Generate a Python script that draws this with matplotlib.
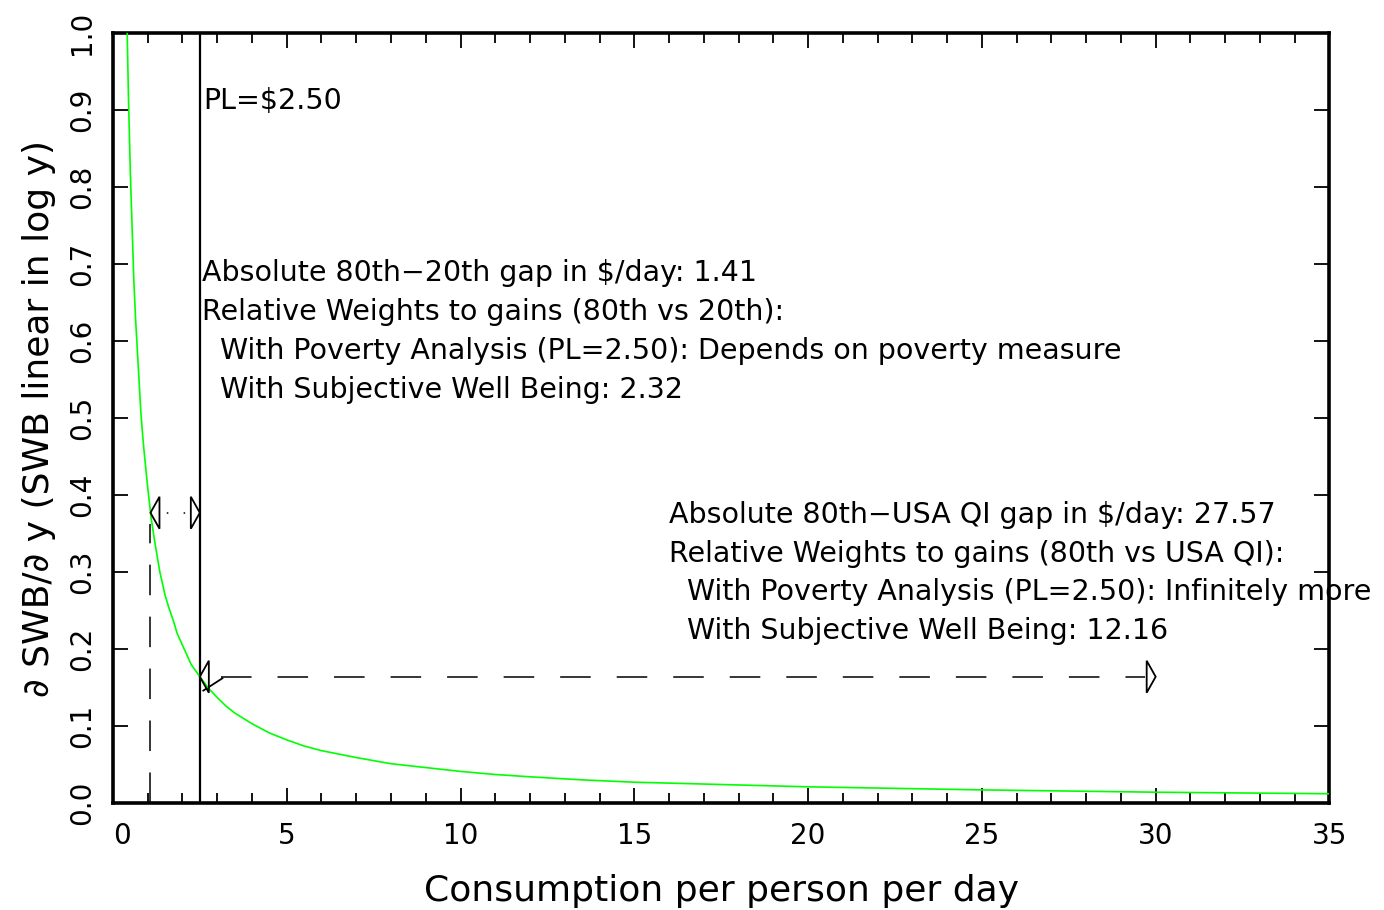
import matplotlib
matplotlib.use("Agg")
import matplotlib.pyplot as plt
from matplotlib.patches import Polygon

plt.rcParams['font.family'] = ['DejaVu Sans']

# curve: marginal utility of consumption
cons = [0.41, 0.45, 0.5, 0.55, 0.6, 0.65, 0.7, 0.75, 0.8, 0.85, 0.9, 1.0, 1.1, 1.2,
        1.35, 1.5, 1.6, 1.75, 1.85, 2.0, 2.25, 2.5, 2.75, 3.0, 3.25, 3.5, 4.0, 4.5,
        5.0, 5.5, 6.0, 7.0, 8.0, 9.0, 10.0, 11.0, 12.0, 13.5, 15.0, 17.5, 20.0,
        25.0, 30.0, 35.0]
mu = [1.0, 0.91, 0.82, 0.75, 0.68, 0.63, 0.59, 0.55, 0.51, 0.48, 0.455, 0.41, 0.37,
      0.34, 0.30, 0.27, 0.255, 0.235, 0.22, 0.205, 0.18, 0.164, 0.149, 0.137, 0.126,
      0.117, 0.103, 0.091, 0.082, 0.074, 0.068, 0.059, 0.051, 0.046, 0.041, 0.037,
      0.034, 0.030, 0.027, 0.024, 0.021, 0.017, 0.014, 0.012]

pov_line = 2.5
p20 = 1.08        # 20th percentile consumption
p20_mu = 0.377
p80 = 2.5         # 80th percentile consumption
p80_mu = 0.164
usa_qi = 30.0

text1 = ["Absolute 80th\u221220th gap in $/day: 1.41",
         "Relative Weights to gains (80th vs 20th):",
         "  With Poverty Analysis (PL=2.50): Depends on poverty measure",
         "  With Subjective Well Being: 2.32"]
text2 = ["Absolute 80th\u2212USA QI gap in $/day: 27.57",
         "Relative Weights to gains (80th vs USA QI):",
         "  With Poverty Analysis (PL=2.50): Infinitely more",
         "  With Subjective Well Being: 12.16"]

fig = plt.figure(figsize=(13.84, 9.10), dpi=100)
ax = fig.add_axes([0.0816, 0.1176, 0.879, 0.846])
ax.set_xlim(0, 35)
ax.set_ylim(0, 1.0)

fs = 20.5

ax.plot(cons, mu, color='#00ff00', lw=1.2, zorder=3)
ax.axvline(pov_line, color='black', lw=1.6)
ax.text(pov_line + 0.1, 0.912, "PL=$2.50", fontsize=fs, va='center', ha='left')

# dashed verticals down to the axis
ax.plot([p20, p20], [0, p20_mu - 0.015], color='black', lw=1.1, dashes=(20, 14))
ax.plot([p80, p80], [0, p80_mu], color='black', lw=1.1, dashes=(20, 14))

# gap arrows
ax.plot([p20, p80], [p20_mu, p20_mu], color='black', lw=1.1, dashes=(1, 10))
ax.plot([p80 + 0.6, usa_qi - 0.3], [p80_mu, p80_mu], color='black', lw=1.1, dashes=(20, 17))

px = 35 / ax.bbox.width
py = 1.0 / ax.bbox.height
def head(x_tip, y, sign):
    # open triangle arrowhead, sign=+1 points right, -1 points left
    hl = 9 * px
    hw = 16 * py
    pts = [(x_tip, y), (x_tip - sign * hl, y + hw), (x_tip - sign * hl, y - hw)]
    ax.add_patch(Polygon(pts, closed=True, fill=False, edgecolor='black', lw=1.3, zorder=4))

head(p20, p20_mu, -1)
head(p80, p20_mu, 1)
head(p80, p80_mu, -1)
head(usa_qi, p80_mu, 1)
ax.plot([p80 + 0.1, p80 + 0.65], [p80_mu - 0.018, p80_mu - 0.002], color='black', lw=1.3)

ys1 = [0.688, 0.638, 0.587, 0.537]
for s, yy in zip(text1, ys1):
    ax.text(2.56, yy, s, fontsize=fs, va='center', ha='left')
ys2 = [0.374, 0.323, 0.274, 0.223]
for s, yy in zip(text2, ys2):
    ax.text(16.0, yy, s, fontsize=fs, va='center', ha='left', clip_on=False)

ax.set_xticks(range(0, 36, 5))
ax.set_xticks(range(0, 36), minor=True)
ax.set_yticks([i / 10 for i in range(11)])
ax.set_yticklabels(["%.1f" % (i / 10) for i in range(11)], rotation=90, va='center')
ax.tick_params(which='major', direction='in', length=11, width=1.3, top=True, right=True,
               labelsize=20, pad=14)
ax.tick_params(which='minor', direction='in', length=7, width=1.3, top=True, right=True)
ax.tick_params(axis='y', pad=12)
for lab in ax.get_xticklabels():
    if lab.get_text() == '0':
        lab.set_horizontalalignment('left')
for sp in ax.spines.values():
    sp.set_linewidth(2.6)

ax.set_xlabel("Consumption per person per day", fontsize=26, labelpad=17)
ax.set_ylabel("\u2202 SWB/\u2202 y (SWB linear in log y)", fontsize=26, labelpad=9)

fig.savefig("out.png", dpi=100)
